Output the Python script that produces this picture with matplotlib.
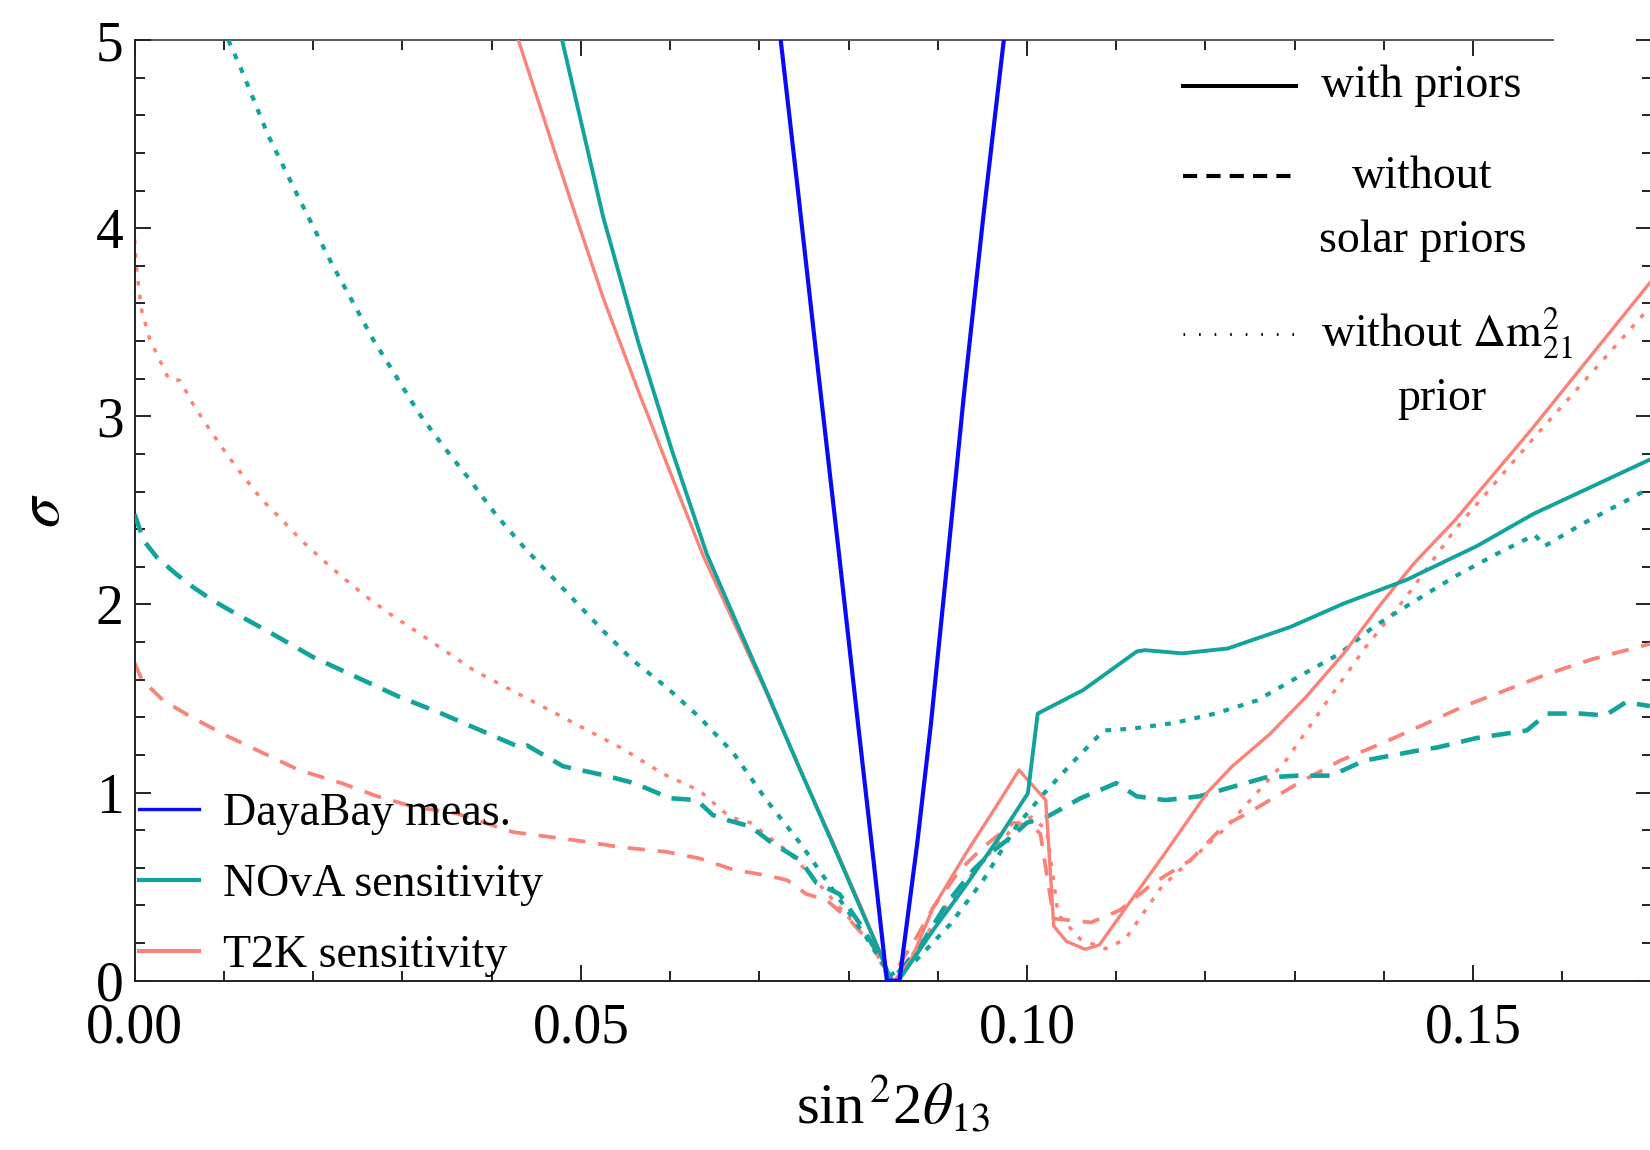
import matplotlib
matplotlib.use("Agg")
import matplotlib.pyplot as plt
from matplotlib.lines import Line2D
from matplotlib.ticker import MultipleLocator, FixedLocator, NullFormatter

# ---------------- data: sigma vs sin^2(2 theta_13) ----------------
dayabay_x = [0.0724, 0.0744, 0.0765, 0.0790, 0.0811, 0.0828, 0.0843, 0.0857,
             0.0877, 0.0892, 0.0911, 0.0929, 0.0951, 0.0974]
dayabay_y = [5.0, 4.17, 3.28, 2.24, 1.35, 0.64, 0.0, 0.0,
             0.73, 1.35, 2.24, 3.10, 4.06, 5.0]

nova_x = [0.0479, 0.0525, 0.0564, 0.0602, 0.0641, 0.0672, 0.0708, 0.0745, 0.0783,
          0.0835, 0.0848, 0.0856, 0.0895, 0.0932, 0.0970, 0.1001, 0.1012, 0.1063,
          0.1123, 0.1132, 0.1174, 0.1225, 0.1295, 0.1355, 0.1425, 0.1504, 0.1567, 0.1698]
nova_y = [5.0, 4.06, 3.40, 2.82, 2.27, 1.93, 1.54, 1.13, 0.72,
          0.15, 0.0, 0.0, 0.27, 0.51, 0.77, 0.996, 1.42, 1.545,
          1.75, 1.757, 1.74, 1.766, 1.88, 2.005, 2.13, 2.31, 2.48, 2.77]

nova_nosolar_x = [0.0, 0.0010, 0.0025, 0.0047, 0.0066, 0.0088, 0.0110, 0.0152, 0.0200,
                  0.0248, 0.0296, 0.0344, 0.0388, 0.0432, 0.0440, 0.0480, 0.0528, 0.0560,
                  0.0600, 0.0630, 0.0648, 0.0667, 0.0690, 0.0712, 0.0746, 0.0764, 0.0790,
                  0.0813, 0.0835, 0.0848, 0.0880, 0.0910, 0.0940, 0.0962, 0.0984, 0.1000,
                  0.1022, 0.1060, 0.1100, 0.1123, 0.1155, 0.1193, 0.1230, 0.1267, 0.1304,
                  0.1341, 0.1378, 0.1434, 0.1460, 0.1504, 0.1560, 0.1583, 0.1620, 0.1648,
                  0.1671, 0.1698]
nova_nosolar_y = [2.48, 2.34, 2.25, 2.16, 2.09, 2.02, 1.96, 1.85, 1.72,
                  1.615, 1.51, 1.42, 1.33, 1.24, 1.25, 1.14, 1.09, 1.05,
                  0.97, 0.96, 0.88, 0.85, 0.82, 0.74, 0.64, 0.52, 0.46,
                  0.30, 0.13, 0.0, 0.18, 0.41, 0.59, 0.69, 0.77, 0.84,
                  0.87, 0.97, 1.05, 0.98, 0.96, 0.98, 1.03, 1.08, 1.09,
                  1.09, 1.17, 1.22, 1.24, 1.29, 1.33, 1.42, 1.42, 1.41,
                  1.48, 1.46]

nova_nodm21_x = [0.0105, 0.0119, 0.0149, 0.0184, 0.0221, 0.0243, 0.0267, 0.0292, 0.0318,
                 0.0346, 0.0376, 0.0406, 0.0437, 0.0469, 0.0503, 0.0525, 0.0559, 0.0596,
                 0.0633, 0.0671, 0.0708, 0.0746, 0.0783, 0.0820, 0.0847, 0.0876, 0.0914,
                 0.0951, 0.0988, 0.1016, 0.1053, 0.1086, 0.1118, 0.1165, 0.1211, 0.1258,
                 0.1304, 0.1351, 0.1388, 0.1425, 0.1480, 0.1527, 0.1569, 0.1580, 0.1623,
                 0.1679, 0.1698]
nova_nodm21_y = [5.0, 4.85, 4.50, 4.16, 3.81, 3.62, 3.41, 3.22, 3.02,
                 2.84, 2.66, 2.47, 2.30, 2.14, 1.97, 1.86, 1.70, 1.56,
                 1.40, 1.21, 0.96, 0.73, 0.48, 0.23, 0.03, 0.11, 0.30,
                 0.535, 0.82, 0.98, 1.17, 1.33, 1.34, 1.37, 1.42, 1.49,
                 1.615, 1.74, 1.88, 1.99, 2.15, 2.27, 2.37, 2.31, 2.43,
                 2.57, 2.62]

t2k_x = [0.0430, 0.0487, 0.0525, 0.0564, 0.0602, 0.0637, 0.0672, 0.0708, 0.0745,
         0.0783, 0.0815, 0.0839, 0.0846, 0.0852, 0.0870, 0.0895, 0.0932, 0.0970,
         0.0991, 0.1021, 0.1030, 0.1044, 0.1065, 0.1081, 0.1109, 0.1155, 0.1202,
         0.1230, 0.1272, 0.1313, 0.1355, 0.1397, 0.1434, 0.1480, 0.1567, 0.1698]
t2k_y = [5.0, 4.17, 3.63, 3.14, 2.68, 2.26, 1.90, 1.53, 1.13,
         0.73, 0.38, 0.11, 0.0, 0.0, 0.11, 0.39, 0.68, 0.96,
         1.12, 0.96, 0.29, 0.21, 0.167, 0.19, 0.376, 0.68, 1.0,
         1.14, 1.31, 1.51, 1.74, 2.005, 2.22, 2.45, 2.94, 3.71]

t2k_nosolar_x = [0.0, 0.0008, 0.0032, 0.0064, 0.0104, 0.0144, 0.0184, 0.0232, 0.0272,
                 0.0312, 0.0360, 0.0392, 0.0424, 0.0464, 0.0504, 0.0544, 0.0596, 0.0633,
                 0.0671, 0.0708, 0.0731, 0.0753, 0.0775, 0.0802, 0.0828, 0.0846, 0.0876,
                 0.0895, 0.0925, 0.0951, 0.0985, 0.1007, 0.1015, 0.1030, 0.1072, 0.1104,
                 0.1142, 0.1183, 0.1220, 0.1258, 0.1304, 0.1351, 0.1397, 0.1444, 0.1490,
                 0.1537, 0.1583, 0.1634, 0.1698]
t2k_nosolar_y = [1.69, 1.60, 1.49, 1.40, 1.30, 1.21, 1.12, 1.05, 0.98,
                 0.925, 0.89, 0.84, 0.79, 0.765, 0.74, 0.71, 0.685, 0.65,
                 0.59, 0.56, 0.535, 0.46, 0.43, 0.32, 0.18, 0.0, 0.23,
                 0.39, 0.59, 0.71, 0.84, 0.82, 0.78, 0.33, 0.31, 0.375,
                 0.52, 0.64, 0.82, 0.92, 1.05, 1.17, 1.26, 1.36, 1.46,
                 1.545, 1.63, 1.71, 1.79]

t2k_nodm21_x = [0.0, 0.0002, 0.0006, 0.0008, 0.0017, 0.0030, 0.0038, 0.0051, 0.0066,
                0.0084, 0.0103, 0.0122, 0.0142, 0.0165, 0.0187, 0.0210, 0.0234, 0.0260,
                0.0286, 0.0324, 0.0380, 0.0436, 0.0492, 0.0548, 0.0592, 0.0633, 0.0667,
                0.0690, 0.0731, 0.0760, 0.0790, 0.0820, 0.0843, 0.0852, 0.0876, 0.0910,
                0.0951, 0.0990, 0.1005, 0.1022, 0.1035, 0.1060, 0.1088, 0.1110, 0.1151,
                0.1220, 0.1290, 0.1337, 0.1379, 0.1425, 0.1480, 0.1567, 0.1698]
t2k_nodm21_y = [3.94, 3.79, 3.63, 3.56, 3.41, 3.28, 3.20, 3.19, 3.06,
                2.93, 2.80, 2.68, 2.56, 2.45, 2.34, 2.24, 2.14, 2.04,
                1.95, 1.83, 1.65, 1.51, 1.37, 1.23, 1.10, 1.01, 0.87,
                0.84, 0.69, 0.55, 0.39, 0.23, 0.04, 0.0, 0.17, 0.40,
                0.64, 0.84, 0.87, 0.80, 0.35, 0.22, 0.17, 0.22, 0.50,
                0.80, 1.17, 1.49, 1.77, 2.04, 2.40, 2.88, 3.58]

experiments = ["DayaBay meas.", "NOvA sensitivity", "T2K sensitivity"]
prior_labels = ["with priors", "without\nsolar priors", "without $\\Delta\\mathrm{m}^2_{21}$\nprior"]

# ---------------- style ----------------
plt.rcParams["font.family"] = ["Liberation Serif", "DejaVu Serif"]
plt.rcParams["mathtext.fontset"] = "stix"

BLUE = "#0a0af5"
TEAL = "#12a39c"
SALMON = "#fa8278"

fig = plt.figure(figsize=(16.5, 11.5), dpi=100)
ax = fig.add_axes([0.0816, 0.1472, 0.9194, 0.8180])

# DayaBay measurement
ax.plot(dayabay_x, dayabay_y, color=BLUE, lw=3.0, zorder=6)

# NOvA
ax.plot(nova_nosolar_x, nova_nosolar_y, color=TEAL, lw=3.3, ls=(0, (4.2, 2.6)), zorder=3)
ax.plot(nova_nodm21_x, nova_nodm21_y, color=TEAL, lw=3.0, ls=(0, (1.4, 2.2)), zorder=3)
ax.plot(nova_x, nova_y, color=TEAL, lw=2.8, zorder=5)

# T2K
ax.plot(t2k_nosolar_x, t2k_nosolar_y, color=SALMON, lw=2.7, ls=(0, (4.6, 3.4)), zorder=2)
ax.plot(t2k_nodm21_x, t2k_nodm21_y, color=SALMON, lw=2.5, ls=(0, (1.3, 2.7)), zorder=2)
ax.plot(t2k_x, t2k_y, color=SALMON, lw=2.4, zorder=4)

ax.set_xlim(0, 0.17)
ax.set_ylim(0, 5)

# ---------------- axes and ticks ----------------
for side in ("left", "bottom", "right"):
    ax.spines[side].set_linewidth(1.4)
    ax.spines[side].set_color("#222222")
ax.spines["top"].set_visible(False)

ax.xaxis.set_major_locator(MultipleLocator(0.05))
ax.xaxis.set_minor_locator(MultipleLocator(0.01))
ax.yaxis.set_major_locator(MultipleLocator(1))
ax.yaxis.set_minor_locator(MultipleLocator(0.2))
ax.xaxis.set_major_formatter(plt.FuncFormatter(lambda v, p: f"{v:.2f}"))
ax.tick_params(which="both", direction="in", top=False, right=True, color="#222222", width=1.4)
ax.tick_params(which="major", length=11.5)
ax.tick_params(which="minor", length=7)
ax.tick_params(axis="x", which="major", labelsize=40, pad=16)
ax.tick_params(axis="y", which="major", labelsize=40, pad=8)

# upper frame line stops short of the right edge
top = ax.secondary_xaxis("top")
top.xaxis.set_major_locator(FixedLocator([0.0, 0.05, 0.10, 0.15]))
top.xaxis.set_minor_locator(FixedLocator([0.01, 0.02, 0.03, 0.04, 0.06, 0.07, 0.08,
                                          0.09, 0.11, 0.12, 0.13, 0.14]))
top.xaxis.set_major_formatter(NullFormatter())
top.tick_params(which="both", direction="in", color="#222222", width=1.4)
top.tick_params(which="major", length=11.5)
top.tick_params(which="minor", length=7)
top.spines["top"].set_bounds(0, 0.1589)
top.spines["top"].set_linewidth(1.4)
top.spines["top"].set_color("#555555")

ax.set_xlabel(r"sin$^{\,2}$2$\theta_{13}$", fontsize=42, labelpad=14)
ax.set_ylabel(r"$\sigma$", fontsize=44, labelpad=17)

# ---------------- legend: experiments ----------------
handles = [Line2D([], [], color=BLUE, lw=2.4),
           Line2D([], [], color=TEAL, lw=3.0),
           Line2D([], [], color=SALMON, lw=3.0)]
ax.legend(handles, experiments, loc="lower left", bbox_to_anchor=(0.003, 0.004),
          frameon=False, fontsize=33, handlelength=1.3, handletextpad=0.52,
          labelspacing=0.62, borderpad=0.0, borderaxespad=0.0)

# ---------------- legend: prior treatment ----------------
styles = [dict(ls="-", lw=2.9), dict(ls=(0, (3.4, 2.2)), lw=3.0), dict(ls=(0, (0.6, 5.0)), lw=2.0)]
handle_y = [0.951, 0.855, 0.688]
for st, hy in zip(styles, handle_y):
    ax.add_line(Line2D([0.691, 0.7655], [hy, hy], transform=ax.transAxes,
                       color="black", **st))

ax.text(0.782, 0.951, prior_labels[0], transform=ax.transAxes, fontsize=33,
        ha="left", va="center")
ax.text(0.849, 0.855, prior_labels[1].split("\n")[0], transform=ax.transAxes,
        fontsize=33, ha="center", va="center")
ax.text(0.849, 0.787, prior_labels[1].split("\n")[1], transform=ax.transAxes,
        fontsize=33, ha="center", va="center")
ax.text(0.782, 0.688, prior_labels[2].split("\n")[0], transform=ax.transAxes,
        fontsize=33, ha="left", va="center")
ax.text(0.862, 0.619, prior_labels[2].split("\n")[1], transform=ax.transAxes,
        fontsize=33, ha="center", va="center")

fig.savefig("out.png", dpi=100)
